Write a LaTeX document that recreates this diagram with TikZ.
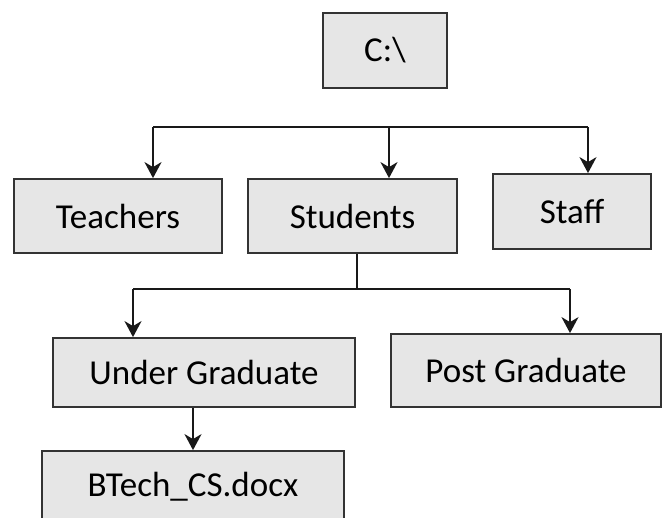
\documentclass[tikz,border=0pt]{standalone}
\usepackage{fontspec}
\setmainfont{Carlito}
\usetikzlibrary{arrows.meta}
\definecolor{boxfill}{HTML}{E6E6E6}
\definecolor{boxline}{HTML}{333333}
\tikzset{
  box/.style={draw=boxline, line width=1.8pt, fill=boxfill, rectangle, inner sep=0pt,
    font=\fontsize{35}{41}\selectfont, text=black},
  wire/.style={draw=black!90, line width=1.8pt},
  arr/.style={wire, -{Stealth[length=16pt,width=17pt,inset=5pt]}}
}
\begin{document}
\begin{tikzpicture}[x=1pt,y=-1pt]
\useasboundingbox (0,0) rectangle (663,517);
\clip (0,0) rectangle (663,517);
\node[box, minimum width=124pt, minimum height=75pt] (C) at (385,50.5) {C:\textbackslash};
\node[box, minimum width=208pt, minimum height=74pt] (T) at (118,216) {Teachers};
\node[box, minimum width=209pt, minimum height=74pt] (S) at (352.5,216) {Students};
\node[box, minimum width=158pt, minimum height=75pt] (F) at (572,211.5) {Staff};
\node[box, minimum width=302pt, minimum height=69pt] (U) at (204,372.5) {Under Graduate};
\node[box, minimum width=270pt, minimum height=73pt] (P) at (526,370.5) {Post Graduate};
\node[box, minimum width=302pt, minimum height=72pt] (B) at (193,487) {BTech\_CS.docx};
% top bus
\coordinate (b1) at (153,127);
\coordinate (b2) at (389,127);
\coordinate (b3) at (588,127);
\draw[wire] (b1) -- (b3);
\draw[arr] (b1) -- (b1 |- T.north);
\draw[arr] (b2) -- (b2 |- S.north);
\draw[arr] (b3) -- (b3 |- F.north);
% students bus
\coordinate (s0) at (357,289);
\coordinate (s1) at (133,289);
\coordinate (s2) at (570,289);
\draw[wire] (s0 |- S.south) -- (s0);
\draw[wire] (s1) -- (s2);
\draw[arr] (s1) -- (s1 |- U.north);
\draw[arr] (s2) -- (s2 |- P.north);
% under graduate to btech
\coordinate (u1) at (193,0);
\draw[arr] (u1 |- U.south) -- (u1 |- B.north);
\end{tikzpicture}
\end{document}
